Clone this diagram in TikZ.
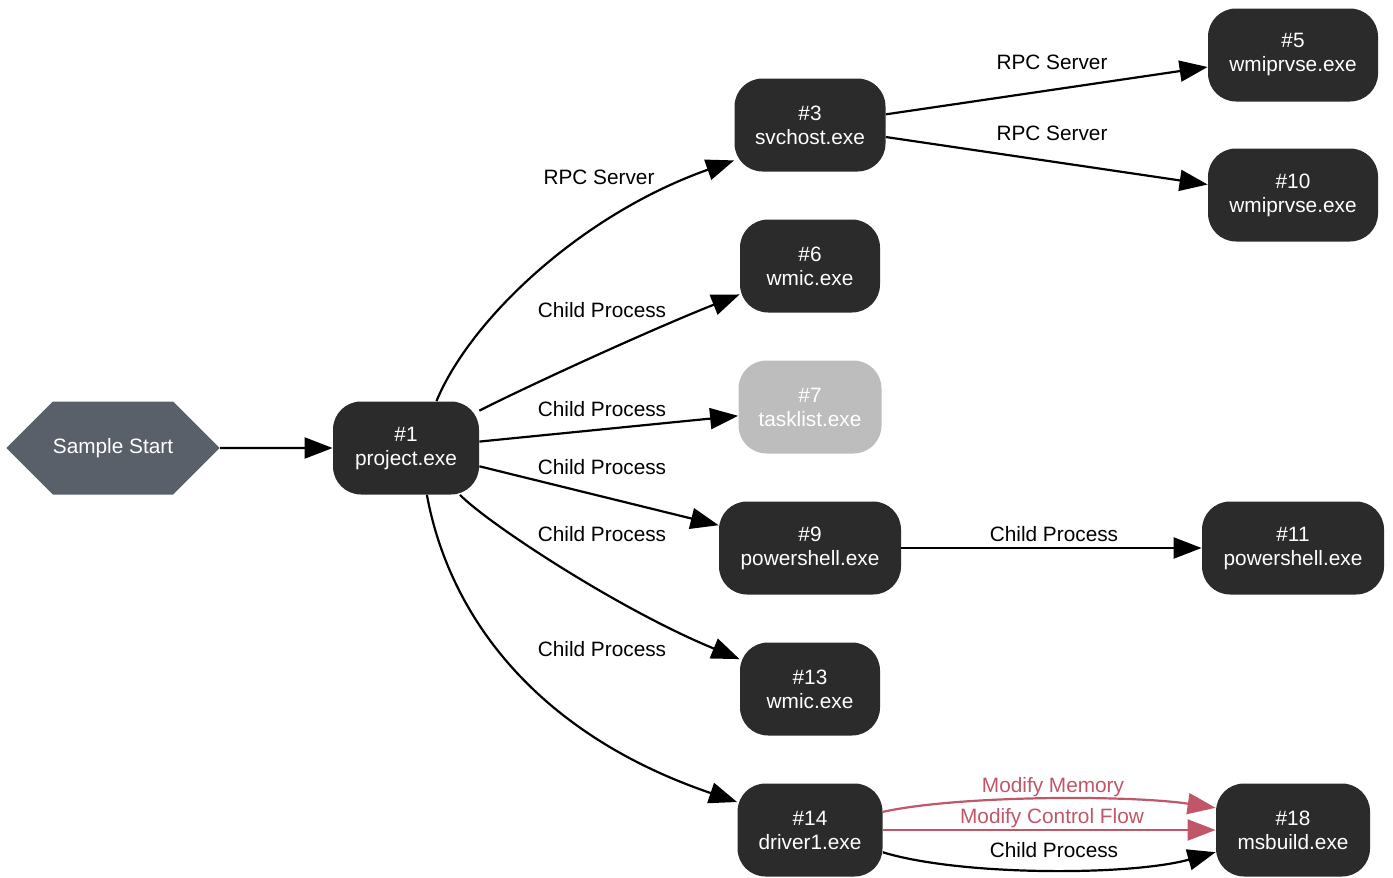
\documentclass[tikz,border=0pt]{standalone}
\usepackage{fontspec}
\setmainfont{Liberation Sans}
\usetikzlibrary{arrows.meta,shapes.symbols}
\definecolor{boxgray}{RGB}{43,43,43}
\definecolor{startgray}{RGB}{90,96,105}
\definecolor{idlegray}{RGB}{189,189,189}
\definecolor{memred}{RGB}{192,86,104}

\begin{document}
\begin{tikzpicture}[x=0.5pt,y=-0.5pt,font=\fontsize{10.4}{12}\selectfont,
	proc/.style={rectangle,rounded corners=14pt,fill=boxgray,text=white,minimum height=46.5pt,inner sep=0pt,align=center},
	lbl/.style={anchor=base,text=black},
	link/.style={line width=1.1pt,-{Triangle[length=14pt,width=10.5pt]}}]
	\useasboundingbox (0,0) rectangle (1393,878);

	% nodes
	\node[signal,signal to=west and east,signal pointer angle=90,fill=startgray,text=white,
		minimum width=106.5pt,minimum height=46.5pt,inner sep=0pt] (start) at (113,448) {Sample Start};
	\node[proc,minimum width=73pt]		(p1)  at (406,448)  {\#1\\project.exe};
	\node[proc,minimum width=75.5pt]	(p3)  at (810,125)  {\#3\\svchost.exe};
	\node[proc,minimum width=85pt]		(p5)  at (1293,55)  {\#5\\wmiprvse.exe};
	\node[proc,minimum width=85pt]		(p10) at (1293,195) {\#10\\wmiprvse.exe};
	\node[proc,minimum width=70pt]		(p6)  at (810,266)  {\#6\\wmic.exe};
	\node[proc,minimum width=71.5pt,fill=idlegray] (p7) at (810,407) {\#7\\tasklist.exe};
	\node[proc,minimum width=91pt]		(p9)  at (810,548)  {\#9\\powershell.exe};
	\node[proc,minimum width=91pt]		(p11) at (1293,548) {\#11\\powershell.exe};
	\node[proc,minimum width=70pt]		(p13) at (810,689)  {\#13\\wmic.exe};
	\node[proc,minimum width=72.5pt]	(p14) at (810,830)  {\#14\\driver1.exe};
	\node[proc,minimum width=77pt]		(p18) at (1293,830) {\#18\\msbuild.exe};

	% edges from project.exe
	\draw[link] (start) -- (p1);
	\draw[link] (p1.57) .. controls (470,320) and (580,215) .. (p3.205)
		node[lbl] at (599,184) {RPC Server};
	\draw[link] (p1.27) .. controls (530,385) and (650,330) .. (p6.202)
		node[lbl] at (602,317) {Child Process};
	\draw[link] (p1.5) -- (p7.187)
		node[lbl] at (602,416) {Child Process};
	\draw[link] (p1.-14) -- (p9.166)
		node[lbl] at (602,474) {Child Process};
	\draw[link] (p1.-41) .. controls (490,525) and (620,610) .. (p13.157)
		node[lbl] at (602,541) {Child Process};
	\draw[link] (p1.-66) .. controls (450,620) and (540,735) .. (p14.159)
		node[lbl] at (602,656) {Child Process};

	% further edges
	\draw[link] (p3.8) -- (p5.188)
		node[lbl] at (1052,69) {RPC Server};
	\draw[link] (p3.-9) -- (p10.173)
		node[lbl] at (1052,140) {RPC Server};
	\draw[link] (p9) -- (p11)
		node[lbl] at (1054,541) {Child Process};

	\draw[link,memred] (p14.14) .. controls (960,795) and (1130,795) .. (p18.164)
		node[lbl,text=memred] at (1053,792) {Modify Memory};
	\draw[link,memred] (p14) -- (p18)
		node[lbl,text=memred] at (1052,823) {Modify Control Flow};
	\draw[link] (p14.-17) .. controls (960,876) and (1130,876) .. (p18.196)
		node[lbl] at (1054,857) {Child Process};
\end{tikzpicture}
\end{document}
